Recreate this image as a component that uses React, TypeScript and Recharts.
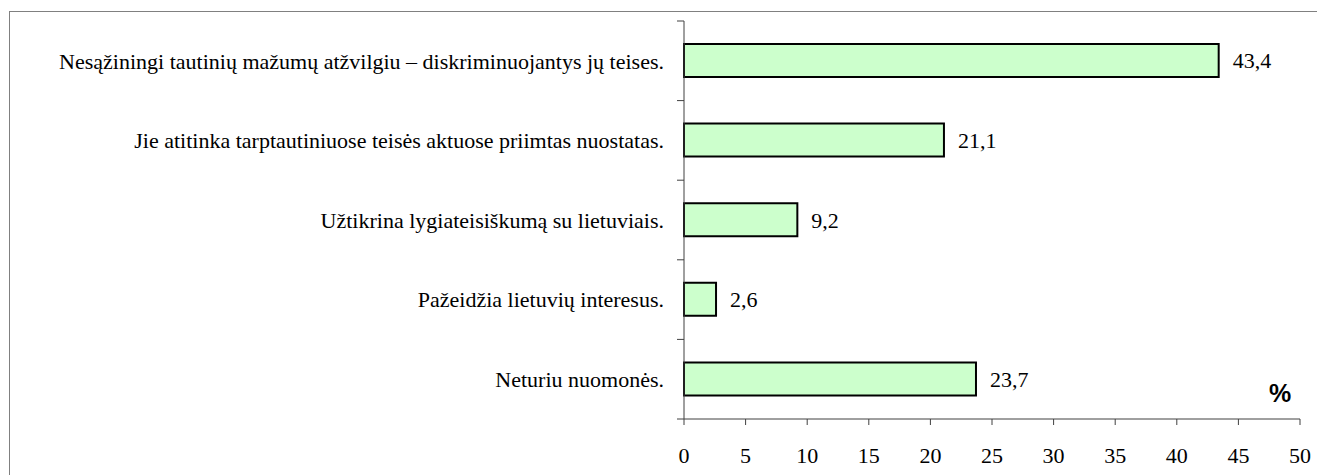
import React from 'react';
import { BarChart, Bar, XAxis, YAxis, LabelList } from 'recharts';

const categories = [
  'Nesąžiningi tautinių mažumų atžvilgiu – diskriminuojantys jų teises.',
  'Jie atitinka tarptautiniuose teisės aktuose priimtas nuostatas.',
  'Užtikrina lygiateisiškumą su lietuviais.',
  'Pažeidžia lietuvių interesus.',
  'Neturiu nuomonės.',
];
const values = [43.4, 21.1, 9.2, 2.6, 23.7];
const xTicks = [0, 5, 10, 15, 20, 25, 30, 35, 40, 45, 50];
const unitLabel = '%';

const data = categories.map((name, i) => ({ name, value: values[i] }));

const FONT = 'Liberation Serif, Tinos, Times New Roman, DejaVu Serif, serif';
const AXIS_COLOR = '#404040';
const LABEL_GAP = 20;

const CategoryTick = (props: any) => {
  const { x, y, payload, index, visibleTicksCount } = props;
  const half = payload && payload.offset ? payload.offset : 0;
  const ax = x + LABEL_GAP;
  return (
    <g>
      <line x1={ax - 7} x2={ax} y1={y - half} y2={y - half} stroke={AXIS_COLOR} strokeWidth={1} />
      {index === visibleTicksCount - 1 && (
        <line x1={ax - 7} x2={ax} y1={y + half} y2={y + half} stroke={AXIS_COLOR} strokeWidth={1} />
      )}
      <text x={x} y={y} dy="0.355em" textAnchor="end" style={{ fontFamily: FONT, fontSize: 22, fill: '#000' }}>
        {payload.value}
      </text>
    </g>
  );
};

const XTick = (props: any) => {
  const { x, y, payload } = props;
  return (
    <text x={x} y={y} dy="0.71em" textAnchor="middle" style={{ fontFamily: FONT, fontSize: 22, fill: '#000' }}>
      {payload.value}
    </text>
  );
};

const UnitLabel = (props: any) => {
  const { viewBox } = props;
  return (
    <text
      x={viewBox.x + viewBox.width - 20}
      y={viewBox.y - 17}
      textAnchor="middle"
      style={{ fontFamily: 'Liberation Sans, Arial, sans-serif', fontWeight: 'bold', fontSize: 25, fill: '#000' }}
    >
      {unitLabel}
    </text>
  );
};

export default function App() {
  return (
    <div style={{ position: 'absolute', left: 0, top: 0, width: 1317, height: 475, overflow: 'hidden', background: '#fff' }}>
      <div
        style={{
          position: 'absolute',
          left: 9,
          top: 11,
          width: 1340,
          height: 500,
          border: '1px solid #808080',
          boxSizing: 'border-box',
        }}
      />
      <div style={{ position: 'absolute', left: 0, top: 0 }}>
        <BarChart
          width={1317}
          height={475}
          data={data}
          layout="vertical"
          margin={{ top: 21, right: 17, bottom: 0, left: 0 }}
        >
          <XAxis
            type="number"
            domain={[0, 50]}
            ticks={xTicks}
            interval={0}
            height={56}
            axisLine={{ stroke: AXIS_COLOR, strokeWidth: 1 }}
            tickLine={{ stroke: AXIS_COLOR, strokeWidth: 1 }}
            tickSize={6}
            tickMargin={22}
            tick={<XTick />}
            label={<UnitLabel />}
          />
          <YAxis
            type="category"
            dataKey="name"
            width={684}
            axisLine={{ stroke: AXIS_COLOR, strokeWidth: 1 }}
            tickLine={false}
            tickSize={0}
            tickMargin={LABEL_GAP}
            interval={0}
            tick={<CategoryTick />}
          />
          <Bar
            dataKey="value"
            fill="#CCFFCC"
            stroke="#000"
            strokeWidth={2}
            barSize={33}
            isAnimationActive={false}
          >
            <LabelList
              dataKey="value"
              position="right"
              offset={14}
              formatter={(v: any) => String(v).replace('.', ',')}
              style={{ fontFamily: FONT, fontSize: 22, fill: '#000' }}
            />
          </Bar>
        </BarChart>
      </div>
    </div>
  );
}
